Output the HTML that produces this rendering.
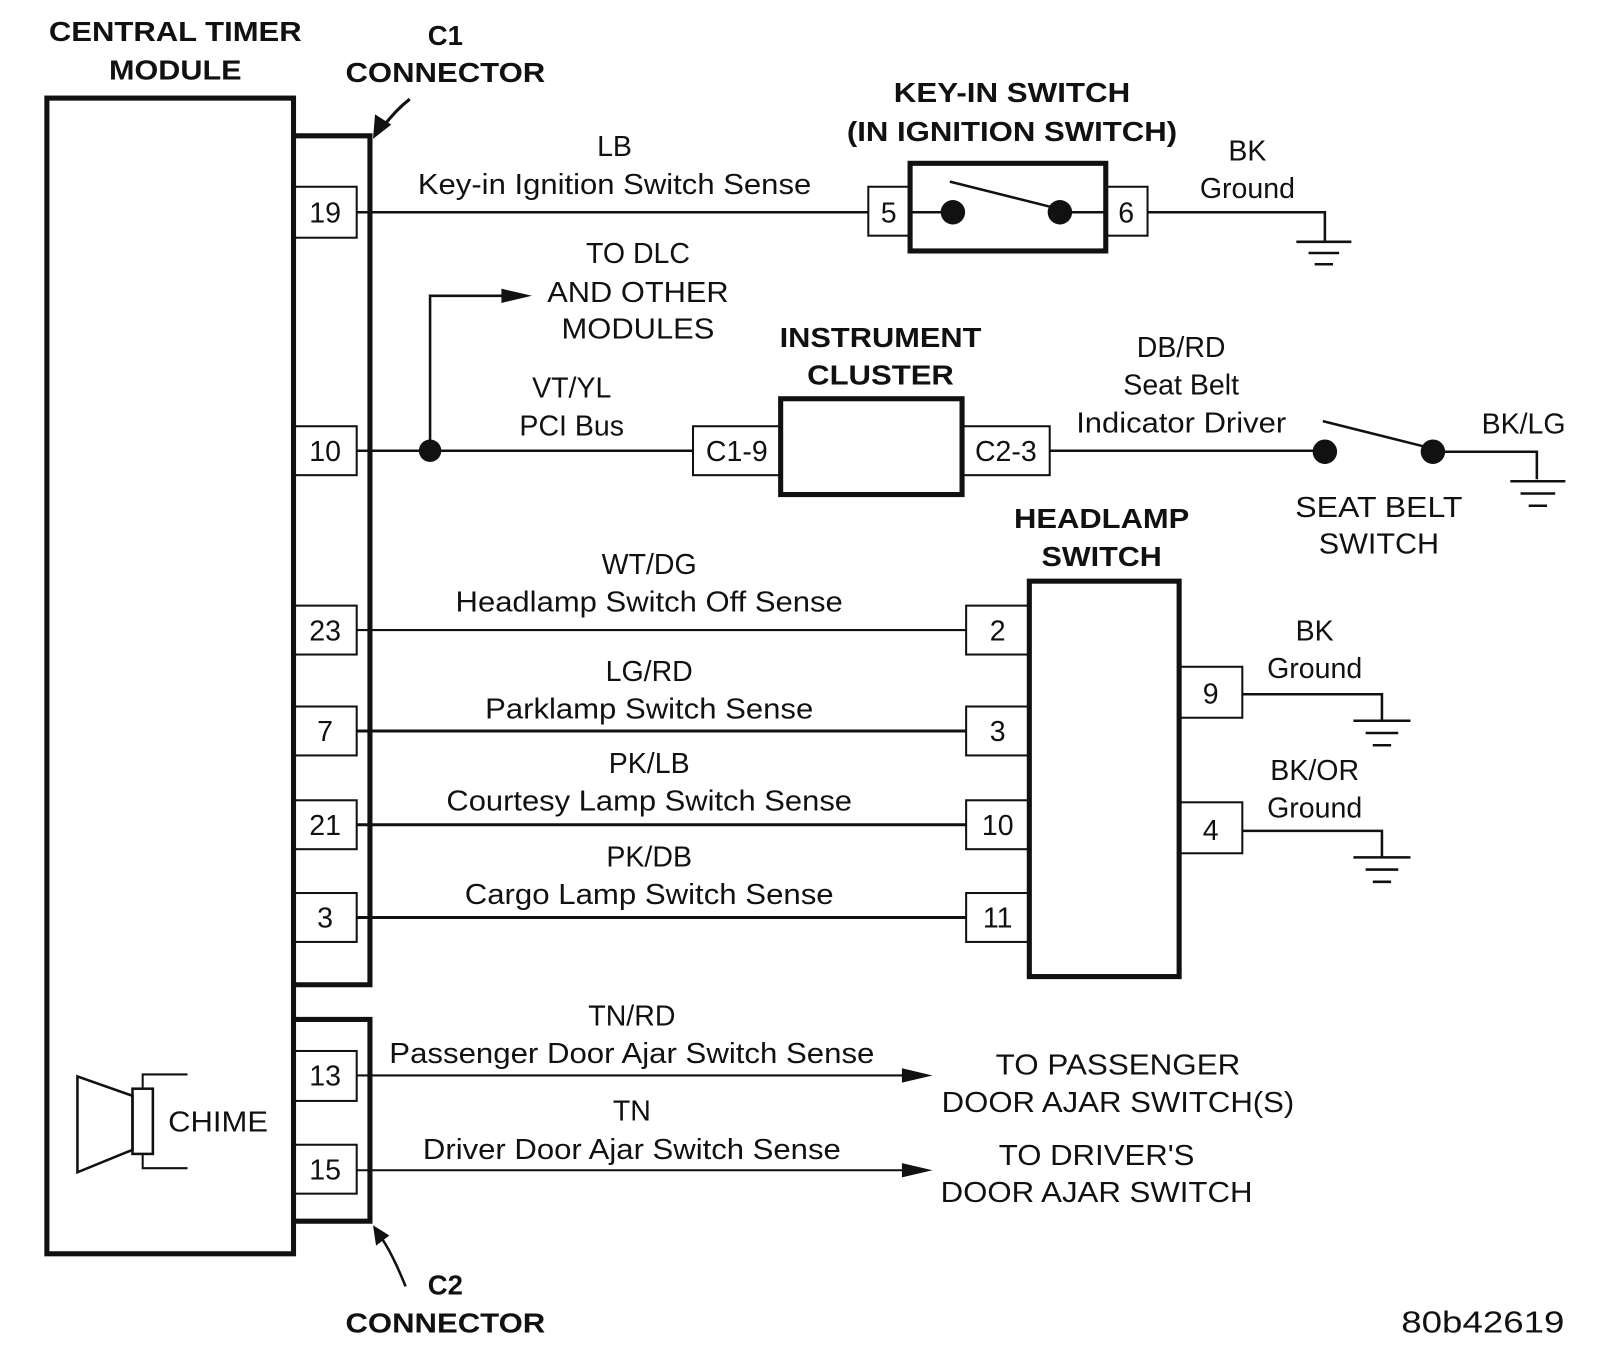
<!DOCTYPE html>
<html><head><meta charset="utf-8"><style>
html,body{margin:0;padding:0;background:#fff}
svg{display:block}
text{font-family:"Liberation Sans",Arial,sans-serif;fill:#111;font-size:28px;text-anchor:middle}
.b{font-weight:bold;font-size:27px}
</style></head><body>
<svg width="1598" height="1358" viewBox="0 0 1568 1332" xmlns="http://www.w3.org/2000/svg">
<g stroke="#111" fill="none">
<rect x="46" y="96" width="242" height="1134" stroke-width="5"/>
<path d="M288,133 H363 V966 H288" stroke-width="5"/>
<path d="M288,1000 H363 V1198 H288" stroke-width="5"/>
<g stroke-width="2">
<rect x="288" y="183" width="62" height="50"/>
<rect x="288" y="418" width="62" height="48"/>
<rect x="288" y="594" width="62" height="48"/>
<rect x="288" y="693" width="62" height="48"/>
<rect x="288" y="785" width="62" height="48"/>
<rect x="288" y="876" width="62" height="48"/>
<rect x="288" y="1031" width="62" height="49"/>
<rect x="288" y="1123" width="62" height="48"/>
</g>
<polygon points="76,1056 130,1075 130,1128 76,1150" stroke-width="2.5"/>
<rect x="130" y="1068" width="20" height="64" stroke-width="2.5"/>
<path d="M184,1054 H140 V1068 M140,1132 V1146 H184" stroke-width="2"/>
<path d="M402,97 Q388,108 376,124" stroke-width="3"/>
<polygon points="366,136 368,112 384,122" fill="#111" stroke="none"/>
<path d="M398,1262 Q385,1230 374,1214" stroke-width="2.5"/>
<polygon points="366,1202 382,1212 369,1222" fill="#111" stroke="none"/>
<path d="M350,208 H852" stroke-width="2.5"/>
<rect x="852" y="183" width="41" height="48" stroke-width="2"/>
<rect x="893" y="160" width="192" height="86" stroke-width="5"/>
<rect x="1085" y="183" width="41" height="48" stroke-width="2"/>
<path d="M893,208 H935 M1040,208 H1085 M932,178 L1040,205" stroke-width="2.5"/>
<path d="M1126,208 H1300 V236 M1272,237 H1326 M1284,248 H1314 M1290,259 H1308" stroke-width="2.5"/>
<path d="M350,442 H680 M422,442 V290 H500" stroke-width="2.5"/>
<polygon points="492,283 522,290 492,297" fill="#111" stroke="none"/>
<rect x="680" y="418" width="86" height="48" stroke-width="2"/>
<rect x="766" y="391" width="178" height="94" stroke-width="5"/>
<rect x="944" y="418" width="86" height="48" stroke-width="2"/>
<path d="M1030,442 H1300 M1298,413 L1406,440 M1406,443 H1508 V470 M1482,472 H1536 M1492,484 H1526 M1500,496 H1518" stroke-width="2.5"/>
<rect x="1010" y="570" width="147" height="388" stroke-width="5"/>
<g stroke-width="2">
<rect x="948" y="594" width="62" height="48"/>
<rect x="948" y="693" width="62" height="48"/>
<rect x="948" y="785" width="62" height="48"/>
<rect x="948" y="876" width="62" height="48"/>
<rect x="1157" y="654" width="62" height="50"/>
<rect x="1157" y="787" width="62" height="50"/>
</g>
<path d="M350,618 H948" stroke-width="2"/>
<path d="M350,717 H948 M350,809 H948 M350,900 H948" stroke-width="3"/>
<path d="M1219,681 H1356 V706 M1328,707 H1384 M1340,719 H1372 M1347,731 H1365" stroke-width="2.5"/>
<path d="M1219,815 H1356 V840 M1328,841 H1384 M1340,853 H1372 M1347,865 H1365" stroke-width="2.5"/>
<path d="M350,1055 H895 M350,1148 H895" stroke-width="2"/>
</g>
<polygon points="885,1048 915,1055 885,1062" fill="#111"/>
<polygon points="885,1141 915,1148 885,1155" fill="#111"/>
<g fill="#111">
<circle cx="935" cy="208" r="12"/><circle cx="1040" cy="208" r="12"/>
<circle cx="422" cy="442" r="11"/>
<circle cx="1300" cy="443" r="12"/><circle cx="1406" cy="443" r="12"/>
</g>
<text class="b" x="172" y="40" textLength="248" lengthAdjust="spacingAndGlyphs">CENTRAL TIMER</text>
<text class="b" x="172" y="78" textLength="130" lengthAdjust="spacingAndGlyphs">MODULE</text>
<text class="b" x="437" y="44">C1</text>
<text class="b" x="437" y="80" textLength="196" lengthAdjust="spacingAndGlyphs">CONNECTOR</text>
<text class="b" x="437" y="1270">C2</text>
<text class="b" x="437" y="1307" textLength="196" lengthAdjust="spacingAndGlyphs">CONNECTOR</text>
<text x="319" y="218">19</text><text x="319" y="452">10</text><text x="319" y="628">23</text>
<text x="319" y="727">7</text><text x="319" y="819">21</text><text x="319" y="910">3</text>
<text x="319" y="1065">13</text><text x="319" y="1157">15</text>
<text x="214" y="1110" textLength="98" lengthAdjust="spacingAndGlyphs">CHIME</text>
<text x="603" y="153">LB</text>
<text x="603" y="190" textLength="386" lengthAdjust="spacingAndGlyphs">Key-in Ignition Switch Sense</text>
<text class="b" x="993" y="100" textLength="232" lengthAdjust="spacingAndGlyphs">KEY-IN SWITCH</text>
<text class="b" x="993" y="138" textLength="324" lengthAdjust="spacingAndGlyphs">(IN IGNITION SWITCH)</text>
<text x="872" y="218">5</text><text x="1105" y="218">6</text>
<text x="1224" y="157">BK</text><text x="1224" y="194">Ground</text>
<text x="626" y="258">TO DLC</text><text x="626" y="296" textLength="178" lengthAdjust="spacingAndGlyphs">AND OTHER</text><text x="626" y="332" textLength="150" lengthAdjust="spacingAndGlyphs">MODULES</text>
<text x="561" y="390">VT/YL</text><text x="561" y="427">PCI Bus</text>
<text class="b" x="864" y="340" textLength="198" lengthAdjust="spacingAndGlyphs">INSTRUMENT</text><text class="b" x="864" y="377" textLength="144" lengthAdjust="spacingAndGlyphs">CLUSTER</text>
<text x="723" y="452">C1-9</text><text x="987" y="452">C2-3</text>
<text x="1159" y="350">DB/RD</text><text x="1159" y="387">Seat Belt</text><text x="1159" y="424" textLength="206" lengthAdjust="spacingAndGlyphs">Indicator Driver</text>
<text x="1495" y="425">BK/LG</text>
<text x="1353" y="507" textLength="164" lengthAdjust="spacingAndGlyphs">SEAT BELT</text><text x="1353" y="543" textLength="118" lengthAdjust="spacingAndGlyphs">SWITCH</text>
<text class="b" x="1081" y="518" textLength="172" lengthAdjust="spacingAndGlyphs">HEADLAMP</text><text class="b" x="1081" y="555" textLength="118" lengthAdjust="spacingAndGlyphs">SWITCH</text>
<text x="637" y="563">WT/DG</text>
<text x="637" y="600" textLength="380" lengthAdjust="spacingAndGlyphs">Headlamp Switch Off Sense</text>
<text x="637" y="668">LG/RD</text>
<text x="637" y="705" textLength="322" lengthAdjust="spacingAndGlyphs">Parklamp Switch Sense</text>
<text x="637" y="758">PK/LB</text>
<text x="637" y="795" textLength="398" lengthAdjust="spacingAndGlyphs">Courtesy Lamp Switch Sense</text>
<text x="637" y="850">PK/DB</text>
<text x="637" y="887" textLength="362" lengthAdjust="spacingAndGlyphs">Cargo Lamp Switch Sense</text>
<text x="979" y="628">2</text><text x="979" y="727">3</text><text x="979" y="819">10</text><text x="979" y="910">11</text>
<text x="1188" y="690">9</text><text x="1188" y="824">4</text>
<text x="1290" y="628">BK</text><text x="1290" y="665">Ground</text>
<text x="1290" y="765">BK/OR</text><text x="1290" y="802">Ground</text>
<text x="620" y="1006">TN/RD</text>
<text x="620" y="1043" textLength="476" lengthAdjust="spacingAndGlyphs">Passenger Door Ajar Switch Sense</text>
<text x="620" y="1099">TN</text>
<text x="620" y="1137" textLength="410" lengthAdjust="spacingAndGlyphs">Driver Door Ajar Switch Sense</text>
<text x="1097" y="1054" textLength="240" lengthAdjust="spacingAndGlyphs">TO PASSENGER</text>
<text x="1097" y="1091" textLength="346" lengthAdjust="spacingAndGlyphs">DOOR AJAR SWITCH(S)</text>
<text x="1076" y="1143" textLength="192" lengthAdjust="spacingAndGlyphs">TO DRIVER'S</text>
<text x="1076" y="1179" textLength="306" lengthAdjust="spacingAndGlyphs">DOOR AJAR SWITCH</text>
<text x="1455" y="1307" style="font-size:30px" textLength="160" lengthAdjust="spacingAndGlyphs">80b42619</text>
</svg>
</body></html>
